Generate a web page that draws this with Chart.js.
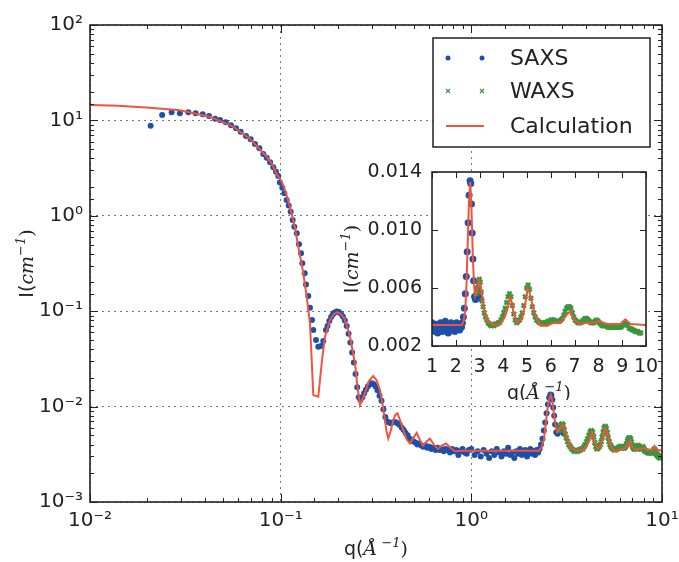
<!DOCTYPE html>
<html>
<head>
<meta charset="utf-8">
<script src="https://cdn.jsdelivr.net/npm/chart.js@4.4.1/dist/chart.umd.min.js"></script>
<style>
  body { margin: 0; background: #fff; }
  #wrap { position: relative; width: 679px; height: 562px; }
  #mainChart { position: absolute; left: 0; top: 0; }
  #insetChart { position: absolute; left: 340px; top: 160px; }
</style>
</head>
<body>
<div id="wrap">
  <canvas id="mainChart" width="679" height="562"></canvas>
  <canvas id="insetChart" width="325" height="240"></canvas>
</div>
<script>
// DATA
var saxsQ = [0.0208, 0.0239, 0.0268, 0.0296, 0.0328, 0.0358, 0.0390, 0.0421, 0.0453, 0.0481,
  0.0515, 0.0549, 0.0583, 0.0617, 0.0658, 0.0696, 0.0733, 0.0773, 0.0811, 0.0845,
  0.0880, 0.0915, 0.0945, 0.0972, 0.0990, 0.1020, 0.1045, 0.1075, 0.1102, 0.1129,
  0.1156, 0.1179, 0.1214, 0.1248, 0.1279, 0.1299, 0.1337, 0.1358, 0.1396, 0.1425,
  0.1460, 0.1483, 0.1532, 0.1575, 0.1627, 0.1673, 0.1728,
  0.176, 0.180, 0.184, 0.188, 0.192, 0.197, 0.202, 0.207, 0.212, 0.217,
  0.222, 0.227, 0.232, 0.237, 0.242, 0.247, 0.252, 0.257, 0.262, 0.268,
  0.274, 0.280, 0.287, 0.294, 0.301, 0.308, 0.315, 0.322, 0.330, 0.338,
  0.346, 0.354, 0.362, 0.370, 0.378, 0.386, 0.395, 0.404, 0.413, 0.422,
  0.432, 0.442, 0.452, 0.463, 0.474, 0.485, 0.497, 0.509, 0.521, 0.534,
  0.547, 0.560, 0.574, 0.588, 0.603, 0.618, 0.633, 0.649, 0.665, 0.682,
  0.699, 0.717, 0.735, 0.754, 0.773, 0.793, 0.813, 0.834, 0.855, 0.877,
  0.899, 0.922, 0.946, 0.970,
  1.00, 1.04, 1.08, 1.12, 1.16, 1.20, 1.24, 1.28, 1.32, 1.36,
  1.40, 1.44, 1.48, 1.52, 1.56, 1.60, 1.64, 1.68, 1.72, 1.76,
  1.80, 1.84, 1.88, 1.92, 1.96, 2.00, 2.04, 2.08, 2.12, 2.16,
  2.20, 2.24, 2.28, 2.32, 2.36, 2.40, 2.44, 2.48, 2.52, 2.56,
  2.60, 2.63, 2.66, 2.69, 2.72, 2.75, 2.79, 2.83, 2.87, 2.91,
  2.95, 2.99, 3.03];
var saxsI = [8.8, 11.4, 12.2, 11.9, 12.2, 11.9, 11.6, 11.1, 10.4, 10.1,
  9.55, 8.88, 8.27, 7.61, 6.86, 6.34, 5.66, 5.10, 4.44, 4.06,
  3.64, 3.22, 2.90, 2.61, 2.24, 1.97, 1.72, 1.46, 1.28, 1.10,
  0.904, 0.769, 0.656, 0.503, 0.405, 0.318, 0.250, 0.191, 0.144, 0.109,
  0.0809, 0.0635, 0.0499, 0.0425, 0.0432, 0.0487, 0.0635,
  0.070, 0.079, 0.087, 0.093, 0.097, 0.099, 0.098, 0.094, 0.088, 0.080,
  0.070, 0.058, 0.047, 0.037, 0.029, 0.022, 0.016, 0.0125, 0.0117, 0.0125,
  0.0138, 0.0150, 0.0163, 0.0172, 0.0176, 0.0172, 0.0162, 0.0148, 0.0130, 0.0115,
  0.0094, 0.0078, 0.0070, 0.0068, 0.0067, 0.0068, 0.0069, 0.0068, 0.0066, 0.0064,
  0.0060, 0.0057, 0.0053, 0.0050, 0.0046, 0.0045, 0.0043, 0.0042, 0.0040, 0.0041,
  0.0039, 0.0038, 0.0039, 0.0037, 0.0038, 0.0036, 0.0037, 0.0035, 0.0037, 0.0035,
  0.0036, 0.0034, 0.0036, 0.0035, 0.0033, 0.0036, 0.0034, 0.0035, 0.0031, 0.0034,
  0.0036, 0.0033, 0.0032, 0.0035,
  0.0036, 0.0031, 0.0034, 0.0030, 0.0035, 0.0032, 0.0029, 0.0034, 0.0031, 0.0036,
  0.0033, 0.0030, 0.0034, 0.0032, 0.0037, 0.0031, 0.0033, 0.0029, 0.0034, 0.0032,
  0.0036, 0.0031, 0.0033, 0.0035, 0.0030, 0.0033, 0.0036, 0.0032, 0.0034, 0.0031,
  0.0035, 0.0033, 0.0036, 0.0040, 0.0046, 0.0056, 0.0068, 0.0085, 0.0105, 0.0124,
  0.0134, 0.0132, 0.0118, 0.0098, 0.0080, 0.0065, 0.0054, 0.0052, 0.0055, 0.0059,
  0.0060, 0.0056, 0.0053];

var waxsQ = [2.87, 2.91, 2.95, 2.99, 3.03, 3.07, 3.11, 3.15, 3.20, 3.25,
  3.30, 3.36, 3.42, 3.48, 3.54, 3.60, 3.66, 3.72, 3.78, 3.84,
  3.90, 3.96, 4.02, 4.08, 4.14, 4.20, 4.26, 4.32, 4.38, 4.44,
  4.50, 4.56, 4.62, 4.68, 4.74, 4.80, 4.86, 4.92, 4.98, 5.04,
  5.10, 5.16, 5.22, 5.28, 5.34, 5.40, 5.46, 5.52, 5.58, 5.64,
  5.70, 5.76, 5.82, 5.88, 5.94, 6.00, 6.06, 6.12, 6.18, 6.24,
  6.30, 6.36, 6.42, 6.48, 6.54, 6.60, 6.66, 6.72, 6.78, 6.84,
  6.90, 6.96, 7.02, 7.08, 7.14, 7.20, 7.26, 7.32, 7.38, 7.44,
  7.50, 7.56, 7.62, 7.68, 7.74, 7.80, 7.86, 7.92, 7.98, 8.04,
  8.10, 8.16, 8.22, 8.28, 8.34, 8.40, 8.46, 8.52, 8.58, 8.64,
  8.70, 8.76, 8.82, 8.88, 8.94, 9.00, 9.06, 9.12, 9.18, 9.24,
  9.30, 9.36, 9.42, 9.48, 9.54, 9.60, 9.66, 9.72, 9.78];
var waxsI = [0.0056, 0.0060, 0.0064, 0.0066, 0.0064, 0.0057, 0.0051, 0.0047, 0.0043, 0.0040,
  0.0038, 0.0036, 0.0035, 0.0034, 0.0035, 0.0034, 0.0035, 0.0035, 0.0036, 0.0036,
  0.0038, 0.0040, 0.0043, 0.0046, 0.0050, 0.0054, 0.0056, 0.0054, 0.0048, 0.0042,
  0.0038, 0.0036, 0.0037, 0.0038, 0.0040, 0.0043, 0.0048, 0.0054, 0.0060, 0.0062,
  0.0059, 0.0053, 0.0047, 0.0043, 0.0040, 0.0038, 0.0037, 0.0036, 0.0036, 0.0035,
  0.0036, 0.0036, 0.0036, 0.0037, 0.0037, 0.0038, 0.0038, 0.0038, 0.0037, 0.0037,
  0.0037, 0.0037, 0.0038, 0.0039, 0.0041, 0.0044, 0.0046, 0.0047, 0.0047, 0.0046,
  0.0043, 0.0040, 0.0038, 0.0037, 0.0036, 0.0036, 0.0036, 0.0037, 0.0038, 0.0039,
  0.0039, 0.0038, 0.0037, 0.0036, 0.0036, 0.0036, 0.0037, 0.0038, 0.0037, 0.0036,
  0.0035, 0.0034, 0.0034, 0.0034, 0.0034, 0.0033, 0.0033, 0.0033, 0.0033, 0.0033,
  0.0033, 0.0033, 0.0033, 0.0033, 0.0033, 0.0034, 0.0035, 0.0036, 0.0035, 0.0034,
  0.0032, 0.0032, 0.0031, 0.0031, 0.0030, 0.0030, 0.0030, 0.0029, 0.0029];

var calcQ = [0.0100, 0.0140, 0.0206, 0.0296, 0.0426, 0.0564, 0.0690, 0.0845, 0.0900, 0.0953,
  0.1013, 0.1060, 0.1119, 0.1180, 0.1237, 0.1275, 0.1314, 0.1369, 0.1425, 0.1483,
  0.1575, 0.1641, 0.1675, 0.1708, 0.1815, 0.1890, 0.1968, 0.2050, 0.2150, 0.2230,
  0.2310, 0.2454, 0.2530, 0.2607, 0.2769, 0.2900, 0.3061, 0.3180, 0.3319, 0.3425,
  0.3525, 0.3590, 0.3668, 0.3780, 0.3896, 0.3990, 0.4090, 0.4200, 0.4398, 0.4560,
  0.4768, 0.4970, 0.5169, 0.5370, 0.5579, 0.5820, 0.6070, 0.6360, 0.6686, 0.7000,
  0.7365, 0.7770, 0.8210, 0.9000, 1.00,
  2.26, 2.33, 2.40, 2.45, 2.50, 2.55, 2.61, 2.66, 2.72, 2.77,
  2.82, 2.90, 3.00, 3.08, 3.17, 3.31, 3.59, 3.87, 4.08, 4.20,
  4.29, 4.36, 4.43, 4.57, 4.78, 4.92, 5.02, 5.10, 5.20, 5.34,
  5.55, 5.84, 6.12, 6.40, 6.68, 6.82, 6.95, 7.24, 7.52, 7.80,
  8.01, 8.36, 8.92, 9.13, 9.34, 10.0];
var calcI = [14.5, 14.2, 13.6, 12.8, 10.9, 8.6, 6.4, 4.16, 3.5, 2.75,
  2.28, 1.8, 1.25, 0.80, 0.474, 0.35, 0.250, 0.142, 0.0747, 0.0132,
  0.0127, 0.0284, 0.040, 0.054, 0.0809, 0.092, 0.0974, 0.095, 0.085, 0.070,
  0.054, 0.0284, 0.016, 0.0104, 0.0138, 0.0185, 0.0209, 0.019, 0.0149, 0.0105,
  0.0072, 0.0055, 0.00465, 0.0056, 0.0072, 0.0082, 0.0085, 0.0075, 0.0057, 0.0046,
  0.0041, 0.0047, 0.0053, 0.0045, 0.0039, 0.0043, 0.0046, 0.0040, 0.0036, 0.0039,
  0.0041, 0.0037, 0.0034, 0.00345, 0.00345,
  0.00345, 0.0037, 0.0045, 0.0062, 0.0090, 0.0118, 0.0133, 0.0115, 0.0080, 0.0062,
  0.00545, 0.0058, 0.00648, 0.0058, 0.0047, 0.00372, 0.00345, 0.00352, 0.00407, 0.0047,
  0.00534, 0.0050, 0.0043, 0.00361, 0.00384, 0.0049, 0.00595, 0.0057, 0.0050, 0.00407,
  0.00345, 0.00338, 0.00361, 0.00361, 0.00418, 0.00441, 0.00384, 0.00352, 0.00361, 0.00361,
  0.00372, 0.00352, 0.00352, 0.00384, 0.00352, 0.00345];

var insetXTicks = [1, 2, 3, 4, 5, 6, 7, 8, 9, 10];
var insetYTicks = [0.002, 0.006, 0.010, 0.014];

// COLORS
var blue = 'rgb(30,80,170)';
var green = 'rgb(60,150,60)';
var red = 'rgb(240,84,60)';

Chart.defaults.font.family = '"DejaVu Sans"';
Chart.defaults.font.size = 20;
Chart.defaults.color = '#222';

function toPoints(xs, ys) {
    return xs.map(function(x, i) { return {x: x, y: ys[i]}; });
}

function isPow10(v) {
    var l = Math.log10(v);
    return Math.abs(l - Math.round(l)) < 1e-6;
}

var SUP = {'-': '\u207B', '0': '\u2070', '1': '\u00B9', '2': '\u00B2', '3': '\u00B3'};
function pow10Label(v) {
    var e = String(Math.round(Math.log10(v)));
    return '10' + e.split('').map(function(c) { return SUP[c]; }).join('');
}

// text with mixed fonts (sans + italic serif + superscript)
function drawRich(ctx, parts, cx, cy, rot) {
    ctx.save();
    ctx.translate(cx, cy);
    if (rot) ctx.rotate(rot);
    var w = 0;
    parts.forEach(function(p) { ctx.font = p.font; p.w = ctx.measureText(p.t).width; w += p.w; });
    var x = -w / 2;
    ctx.fillStyle = '#222';
    ctx.textBaseline = 'alphabetic';
    ctx.textAlign = 'left';
    parts.forEach(function(p) {
        ctx.font = p.font;
        ctx.fillText(p.t, x, 6 + (p.dy || 0));
        x += p.w;
    });
    ctx.restore();
}

function qTitle() {
    return [
        {t: 'q(', font: '19px "DejaVu Sans"'},
        {t: '\u00C5', font: 'italic 19px "DejaVu Serif"'},
        {t: ' \u22121', font: 'italic 13px "DejaVu Serif"', dy: -8},
        {t: ')', font: '19px "DejaVu Serif"'}
    ];
}
function iTitle() {
    return [
        {t: 'I(', font: '19px "DejaVu Sans"'},
        {t: 'cm', font: 'italic 19px "DejaVu Serif"'},
        {t: '\u22121', font: 'italic 13px "DejaVu Serif"', dy: -8},
        {t: ')', font: '19px "DejaVu Serif"'}
    ];
}

// frame + inward ticks on all four sides
function makeFrame(cfg) {
    return {
        id: 'frame',
        beforeDraw: function(chart) {
            if (!cfg.fill) return;
            var a = chart.chartArea, ctx = chart.ctx;
            ctx.save();
            ctx.fillStyle = '#fff';
            ctx.fillRect(a.left, a.top, a.right - a.left, a.bottom - a.top);
            ctx.restore();
        },
        afterDatasetsDraw: function(chart) {
            var a = chart.chartArea, ctx = chart.ctx;
            var xs = chart.scales.x, ys = chart.scales.y;
            ctx.save();
            ctx.strokeStyle = '#222';
            ctx.lineWidth = 1;
            ctx.beginPath();
            xs.ticks.forEach(function(t) {
                var px = Math.round(xs.getPixelForValue(t.value)) + 0.5;
                var len = cfg.isMajor(t.value) ? cfg.major : cfg.minor;
                ctx.moveTo(px, a.bottom); ctx.lineTo(px, a.bottom - len);
                ctx.moveTo(px, a.top); ctx.lineTo(px, a.top + len);
            });
            ys.ticks.forEach(function(t) {
                var py = Math.round(ys.getPixelForValue(t.value)) + 0.5;
                var len = cfg.isMajor(t.value) ? cfg.major : cfg.minor;
                ctx.moveTo(a.left, py); ctx.lineTo(a.left + len, py);
                ctx.moveTo(a.right, py); ctx.lineTo(a.right - len, py);
            });
            ctx.stroke();
            ctx.lineWidth = 1.6;
            ctx.strokeRect(a.left, a.top, a.right - a.left, a.bottom - a.top);
            drawRich(ctx, qTitle(), (a.left + a.right) / 2, a.bottom + cfg.xTitleGap, 0);
            drawRich(ctx, iTitle(), a.left - cfg.yTitleGap, (a.top + a.bottom) / 2, -Math.PI / 2);
            ctx.restore();
        }
    };
}

// legend with two markers per row like the original
var legendPlugin = {
    id: 'ownLegend',
    afterDraw: function(chart) {
        var a = chart.chartArea, ctx = chart.ctx;
        var right = a.right - 12, top = a.top + 13, w = 217, h = 109;
        var left = right - w;
        ctx.save();
        ctx.fillStyle = '#fff';
        ctx.fillRect(left, top, w, h);
        ctx.strokeStyle = '#222';
        ctx.lineWidth = 1.5;
        ctx.strokeRect(left, top, w, h);
        var m1 = left + 15, m2 = left + 49, tx = left + 77;
        var rows = [top + 20, top + 53, top + 88];
        chart.data.datasets.forEach(function(ds, i) {
            var y = rows[i];
            if (ds.legendKind === 'dot') {
                ctx.fillStyle = ds.backgroundColor;
                [m1, m2].forEach(function(mx) { ctx.beginPath(); ctx.arc(mx, y, 2.5, 0, Math.PI * 2); ctx.fill(); });
            } else if (ds.legendKind === 'cross') {
                ctx.strokeStyle = ds.borderColor;
                ctx.lineWidth = 1.2;
                [m1, m2].forEach(function(mx) {
                    ctx.beginPath();
                    ctx.moveTo(mx - 2, y - 2); ctx.lineTo(mx + 2, y + 2);
                    ctx.moveTo(mx - 2, y + 2); ctx.lineTo(mx + 2, y - 2);
                    ctx.stroke();
                });
            } else {
                ctx.strokeStyle = ds.borderColor;
                ctx.lineWidth = 2;
                ctx.beginPath(); ctx.moveTo(m1 - 2, y); ctx.lineTo(m2 + 2, y); ctx.stroke();
            }
            ctx.fillStyle = '#222';
            ctx.font = '22px "DejaVu Sans"';
            ctx.textBaseline = 'middle';
            ctx.fillText(ds.label, tx, y + 1);
        });
        ctx.restore();
    }
};

function fixWidth(w) {
    return function(scale) { scale.width = w; scale.paddingTop = 0; scale.paddingBottom = 0; };
}
function fixHeight(h) {
    return function(scale) { scale.height = h; scale.paddingLeft = 0; scale.paddingRight = 0; };
}

function makeDatasets(dotR, crossR, lineW) {
    return [
        {label: 'SAXS', legendKind: 'dot', data: toPoints(saxsQ, saxsI), order: 2,
         backgroundColor: blue, borderColor: blue, pointRadius: dotR, pointBorderWidth: 0},
        {label: 'WAXS', legendKind: 'cross', data: toPoints(waxsQ, waxsI), order: 1,
         pointStyle: 'crossRot', backgroundColor: green, borderColor: green, pointRadius: crossR, pointBorderWidth: 2.5},
        {label: 'Calculation', legendKind: 'line', data: toPoints(calcQ, calcI), order: 0,
         showLine: true, borderColor: red, backgroundColor: red, borderWidth: lineW, pointRadius: 0}
    ];
}

// MAIN CHART
var mainChart = new Chart(document.getElementById('mainChart').getContext('2d'), {
    type: 'scatter',
    data: {datasets: makeDatasets(3, 3.2, 2)},
    options: {
        responsive: false,
        animation: false,
        layout: {padding: {left: 0, right: 17, top: 25, bottom: 0}},
        plugins: {legend: {display: false}, tooltip: {enabled: false}},
        scales: {
            x: {
                type: 'logarithmic', min: 0.01, max: 10,
                afterFit: fixHeight(60),
                grid: {drawTicks: false, lineWidth: 1,
                       color: function(c) { return c.tick && isPow10(c.tick.value) ? '#777' : 'rgba(0,0,0,0)'; }},
                border: {display: false, dash: [2, 4]},
                ticks: {autoSkip: false, maxRotation: 0, padding: 7,
                        callback: function(v) { return isPow10(v) ? pow10Label(v) : ''; }}
            },
            y: {
                type: 'logarithmic', min: 0.001, max: 100,
                afterFit: fixWidth(90),
                grid: {drawTicks: false, lineWidth: 1,
                       color: function(c) { return c.tick && isPow10(c.tick.value) ? '#777' : 'rgba(0,0,0,0)'; }},
                border: {display: false, dash: [2, 4]},
                ticks: {autoSkip: false, padding: 7,
                        callback: function(v) { return isPow10(v) ? pow10Label(v) : ''; }}
            }
        }
    },
    plugins: [makeFrame({major: 8, minor: 4, isMajor: isPow10, xTitleGap: 47, yTitleGap: 63}), legendPlugin]
});

// INSET CHART
var insetChart = new Chart(document.getElementById('insetChart').getContext('2d'), {
    type: 'scatter',
    data: {datasets: makeDatasets(3.5, 3, 2)},
    options: {
        responsive: false,
        animation: false,
        layout: {padding: {left: 0, right: 19, top: 12, bottom: 0}},
        plugins: {legend: {display: false}, tooltip: {enabled: false}},
        scales: {
            x: {
                type: 'linear', min: 1, max: 10,
                afterFit: fixHeight(54),
                afterBuildTicks: function(s) { s.ticks = insetXTicks.map(function(v) { return {value: v}; }); },
                grid: {display: false},
                border: {display: false},
                ticks: {autoSkip: false, maxRotation: 0, padding: 2, font: {size: 19}}
            },
            y: {
                type: 'linear', min: 0.002, max: 0.014,
                afterFit: fixWidth(92),
                afterBuildTicks: function(s) { s.ticks = insetYTicks.map(function(v) { return {value: v}; }); },
                grid: {display: false},
                border: {display: false},
                ticks: {autoSkip: false, padding: 2, font: {size: 19},
                        callback: function(v) { return v.toFixed(3); }}
            }
        }
    },
    plugins: [makeFrame({fill: true, major: 6, minor: 6, isMajor: function() { return true; }, xTitleGap: 47, yTitleGap: 80})]
});
</script>
</body>
</html>
